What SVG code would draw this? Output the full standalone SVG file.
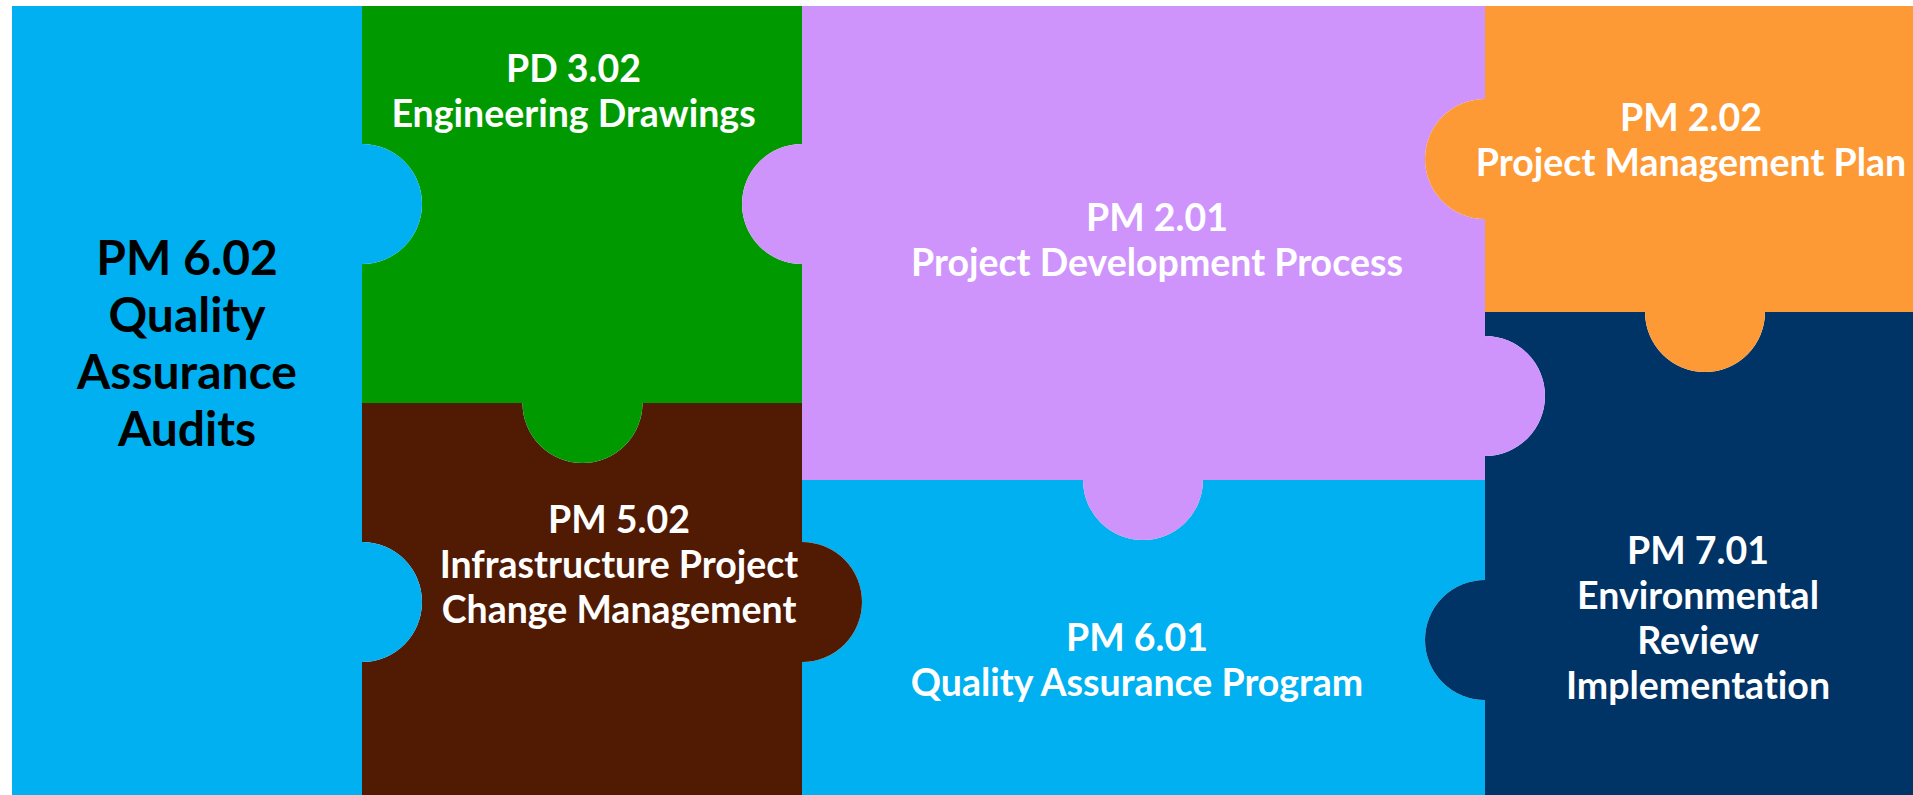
<svg xmlns="http://www.w3.org/2000/svg" width="1913" height="795" viewBox="0 0 1913 795">
<style>
  .t { font-family: Lato, "Open Sans", "Liberation Sans", sans-serif; font-weight: bold; text-anchor: middle; font-variant-ligatures: none; font-feature-settings: "liga" 0, "dlig" 0; }
  .w { fill: #FFFFFF; font-size: 37.5px; }
  .k { fill: #000000; font-size: 48px; }
</style>
<rect x="0" y="0" width="1913" height="795" fill="#FFFFFF"/>
<g id="connectors"></g>
<g id="pm601">
  <path fill="#00B0F0" d="M802,480 H1083 A60,60 0 0 0 1203,480 H1485 V580 A60,60 0 0 0 1485,700 V795 H802 V662 A60,60 0 0 0 802,542 Z"/>
  <text class="t w" x="1137" y="651">PM 6.01</text>
  <text class="t w" x="1137" y="696">Quality Assurance Program</text>
</g>
<g id="pm701">
  <path fill="#003366" d="M1485,312 H1645 A60,60 0 0 0 1765,312 H1913 V795 H1485 V700 A60,60 0 0 1 1485,580 V456 A60,60 0 0 0 1485,336 Z"/>
  <text class="t w" x="1698" y="564">PM 7.01</text>
  <text class="t w" x="1698" y="609">Environmental</text>
  <text class="t w" x="1698" y="654">Review</text>
  <text class="t w" x="1698" y="699">Implementation</text>
</g>
<g id="pm502">
  <path fill="#511A03" d="M362,403 H522.5 A60,60 0 0 0 642.5,403 H802 V542 A60,60 0 0 1 802,662 V795 H362 V662 A60,60 0 0 0 362,542 Z"/>
  <text class="t w" x="619" y="533">PM 5.02</text>
  <text class="t w" x="619" y="578">Infrastructure Project</text>
  <text class="t w" x="619" y="623">Change Management</text>
</g>
<g id="pd302">
  <path fill="#009900" d="M362,6 H802 V144 A60,60 0 0 0 802,264 V403 H642.5 A60,60 0 0 1 522.5,403 H362 V264 A60,60 0 0 0 362,144 Z"/>
  <text class="t w" x="573.5" y="82">PD 3.02</text>
  <text class="t w" x="573.5" y="127">Engineering Drawings</text>
</g>
<g id="pm602">
  <path fill="#00B0F0" d="M12,6 H362 V144 A60,60 0 0 1 362,264 V542 A60,60 0 0 1 362,662 V795 H12 Z"/>
  <text class="t k" x="187" y="275">PM 6.02</text>
  <text class="t k" x="187" y="332">Quality</text>
  <text class="t k" x="187" y="389">Assurance</text>
  <text class="t k" x="187" y="446">Audits</text>
</g>
<g id="pm201">
  <path fill="#CF94FC" d="M802,6 H1485 V99 A60,60 0 0 0 1485,219 V336 A60,60 0 0 1 1485,456 V480 H1203 A60,60 0 0 1 1083,480 H802 V264 A60,60 0 0 1 802,144 Z"/>
  <text class="t w" x="1157" y="231">PM 2.01</text>
  <text class="t w" x="1157" y="276">Project Development Process</text>
</g>
<g id="pm202">
  <path fill="#FE9A35" d="M1485,6 H1913 V312 H1765 A60,60 0 0 1 1645,312 H1485 V219 A60,60 0 0 1 1485,99 Z"/>
  <text class="t w" x="1691" y="131">PM 2.02</text>
  <text class="t w" x="1691" y="176">Project Management Plan</text>
</g>
</svg>
